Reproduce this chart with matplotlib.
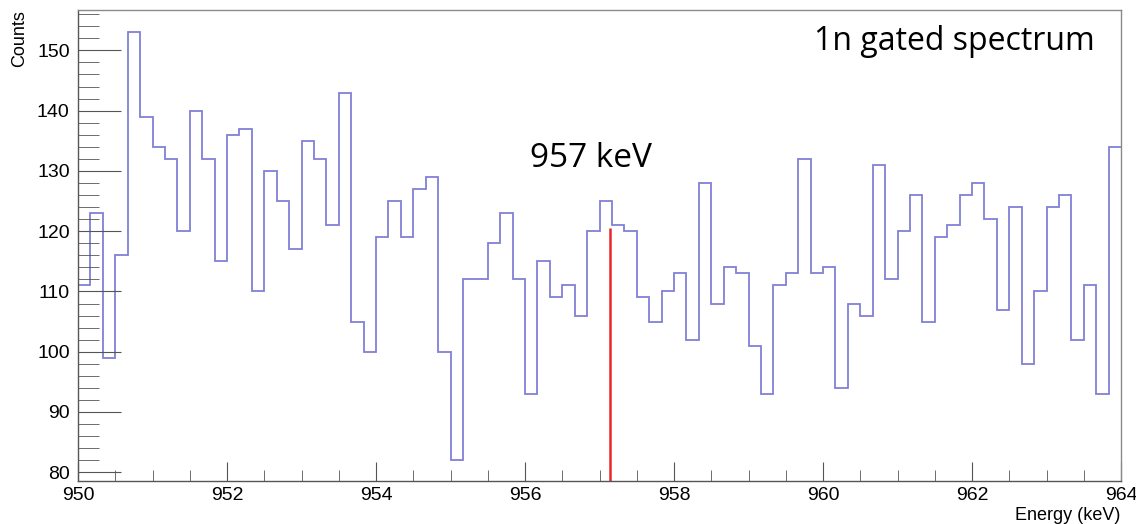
import numpy as np
import matplotlib
matplotlib.use("Agg")
import matplotlib.pyplot as plt
from matplotlib.ticker import MultipleLocator

# histogram: 84 bins between 950 and 964 keV
e_lo, e_hi = 950.0, 964.0
counts = [111, 123, 99, 116, 153, 139, 134, 132, 120, 140,
          132, 115, 136, 137, 110, 130, 125, 117, 135, 132,
          121, 143, 105, 100, 119, 125, 119, 127, 129, 100,
          82, 112, 112, 118, 123, 112, 93, 115, 109, 111,
          106, 120, 125, 121, 120, 109, 105, 110, 113, 102,
          128, 108, 114, 113, 101, 93, 111, 113, 132, 113,
          114, 94, 108, 106, 131, 112, 120, 126, 105, 119,
          121, 126, 128, 122, 107, 124, 98, 110, 124, 126,
          102, 111, 93, 134]

# marker for the 957 keV line
line_e = 957.14
line_top = 120.6

edges = np.linspace(e_lo, e_hi, len(counts) + 1)

plt.rcParams['font.family'] = ['Liberation Sans', 'DejaVu Sans']

fig = plt.figure(figsize=(11.36, 5.24), dpi=100)
ax = fig.add_axes([78 / 1136, 1 - 481 / 524, (1121 - 78) / 1136, (481 - 10) / 524])

ax.stairs(counts, edges, color='#8080d8', lw=1.3, baseline=None)
ax.vlines(line_e, 78.55, line_top, color='#e8262a', lw=1.8)

ax.set_xlim(e_lo, e_hi)
ax.set_ylim(78.55, 156.7)

ax.xaxis.set_major_locator(MultipleLocator(2))
ax.xaxis.set_minor_locator(MultipleLocator(0.5))
ax.yaxis.set_major_locator(MultipleLocator(10))
ax.yaxis.set_minor_locator(MultipleLocator(2))

ax.tick_params(which='both', direction='in', color='#555555', labelsize=14,
               top=False, right=False)
ax.tick_params(axis='y', which='major', length=31, pad=6)
ax.tick_params(axis='y', which='minor', length=15)
ax.tick_params(axis='x', which='major', length=14, pad=4)
ax.tick_params(axis='x', which='minor', length=8)

for s in ax.spines.values():
    s.set_color('#8a8a8a')
    s.set_linewidth(1.0)
ax.spines['left'].set_color('#555555')
ax.spines['bottom'].set_color('#555555')

fig.text(20 / 1136, 1 - 10 / 524, 'Counts', rotation=90, ha='center', va='top', fontsize=13)
fig.text(1120 / 1136, 1 - 515 / 524, 'Energy (keV)', ha='right', va='center', fontsize=13)

ax.text(956.89, 132.0, '957 keV', ha='center', va='center', fontsize=24,
        family=['Open Sans', 'DejaVu Sans'])
ax.text(961.77, 151.4, '1n gated spectrum', ha='center', va='center', fontsize=23,
        family=['Open Sans', 'DejaVu Sans'])

fig.savefig('out.png', dpi=100)
